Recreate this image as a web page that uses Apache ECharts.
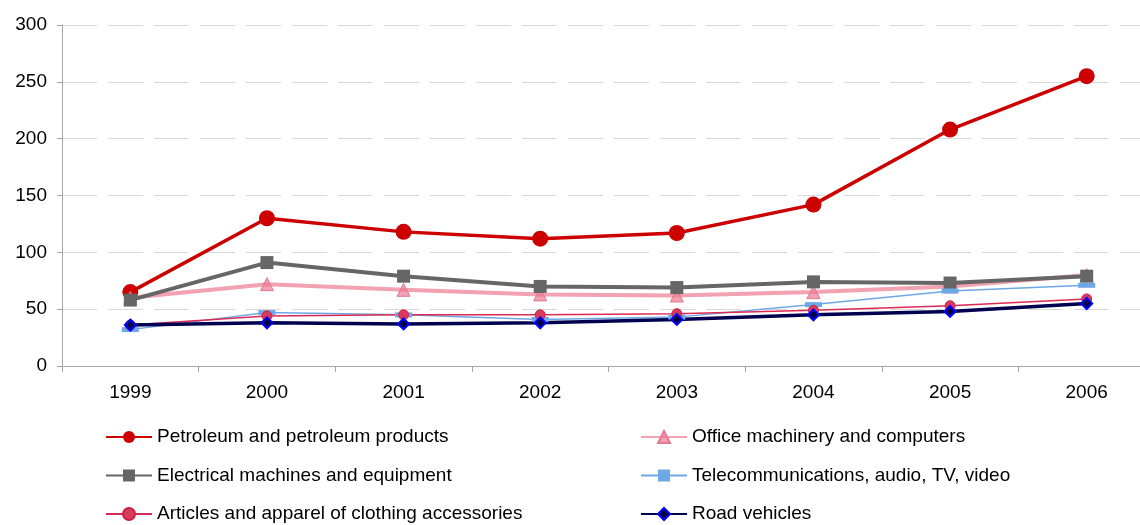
<!DOCTYPE html>
<html>
<head>
<meta charset="utf-8">
<script src="https://cdn.jsdelivr.net/npm/echarts@6/dist/echarts.min.js"></script>
<style>
    html, body { margin: 0; padding: 0; background: #fff; overflow: hidden; }
    #chart { width: 1155px; height: 525px; }
</style>
</head>
<body>
<div id="chart"></div>
<script>
var years = ['1999', '2000', '2001', '2002', '2003', '2004', '2005', '2006'];
var yTicks = [0, 50, 100, 150, 200, 250, 300];

var petroleum = [65, 130, 118, 112, 117, 142, 208, 255];
var office = [60, 72, 67, 63, 62, 65, 70, 80];
var electrical = [58, 91, 79, 70, 69, 74, 73, 79];
var telecom = [32, 47, 45, 41, 43, 54, 66, 71];
var articles = [36, 44, 45, 45, 46, 49, 53, 59];
var road = [36, 38, 37, 38, 41, 45, 48, 55];

var font = 'Liberation Sans, Arial, sans-serif';

var makeLine = function (name, data, color, width, symbol, size, itemStyle) {
    return {
        name: name,
        type: 'line',
        data: data,
        symbol: symbol,
        symbolSize: size,
        showAllSymbol: true,
        lineStyle: { color: color, width: width },
        itemStyle: itemStyle || { color: color },
        emphasis: { disabled: true }
    };
};

var makeLegend = function (left, names) {
    return {
        left: left,
        top: 422,
        height: 103,
        orient: 'vertical',
        itemWidth: 46,
        itemHeight: 15,
        itemGap: 18.5,
        textStyle: { fontSize: 19, lineHeight: 20, color: '#000', fontFamily: font },
        data: names
    };
};

var renderChart = function (id) {
    var chart = echarts.init(document.getElementById(id));
    var option = {
        animation: false,
        textStyle: { fontFamily: font },
        grid: {
            left: 62,
            top: 25,
            right: 0,
            bottom: 159
        },
        legend: [
            makeLegend(100, ['Petroleum and petroleum products', 'Electrical machines and equipment', 'Articles and apparel of clothing accessories']),
            makeLegend(635, ['Office machinery and computers', 'Telecommunications, audio, TV, video', 'Road vehicles'])
        ],
        xAxis: {
            type: 'category',
            data: years,
            boundaryGap: true,
            axisLine: { lineStyle: { color: '#a6a6a6', width: 1 } },
            axisTick: { show: true, length: 6, lineStyle: { color: '#a6a6a6' } },
            axisLabel: { color: '#000', fontSize: 19, margin: 17, fontFamily: font }
        },
        yAxis: {
            type: 'value',
            min: yTicks[0],
            max: yTicks[yTicks.length - 1],
            interval: 50,
            axisLine: { show: true, lineStyle: { color: '#a6a6a6', width: 1 } },
            axisTick: { show: true, length: 5, lineStyle: { color: '#a6a6a6' } },
            axisLabel: { color: '#000', fontSize: 19, margin: 15, fontFamily: font },
            splitLine: { lineStyle: { color: '#d9d9d9', type: [35, 11], width: 1 } }
        },
        series: [
            makeLine('Petroleum and petroleum products', petroleum, '#cc0000', 3.5, 'circle', 16),
            makeLine('Office machinery and computers', office, '#f2a2b0', 4, 'triangle', 13, {
                color: 'rgba(236, 120, 145, 0.7)', borderColor: '#e07a92', borderWidth: 1
            }),
            makeLine('Electrical machines and equipment', electrical, '#666666', 4, 'rect', 13),
            makeLine('Telecommunications, audio, TV, video', telecom, '#6fa8e6', 1.5, 'rect', [17, 5]),
            makeLine('Articles and apparel of clothing accessories', articles, '#dc2a55', 1.5, 'circle', 10, {
                color: '#d83a5c', borderColor: '#cc2048', borderWidth: 1
            }),
            makeLine('Road vehicles', road, '#000050', 3.5, 'diamond', 11, {
                color: '#000040', borderColor: '#0000ff', borderWidth: 2
            })
        ]
    };
    chart.setOption(option);
    return chart;
};

renderChart('chart');
</script>
</body>
</html>
